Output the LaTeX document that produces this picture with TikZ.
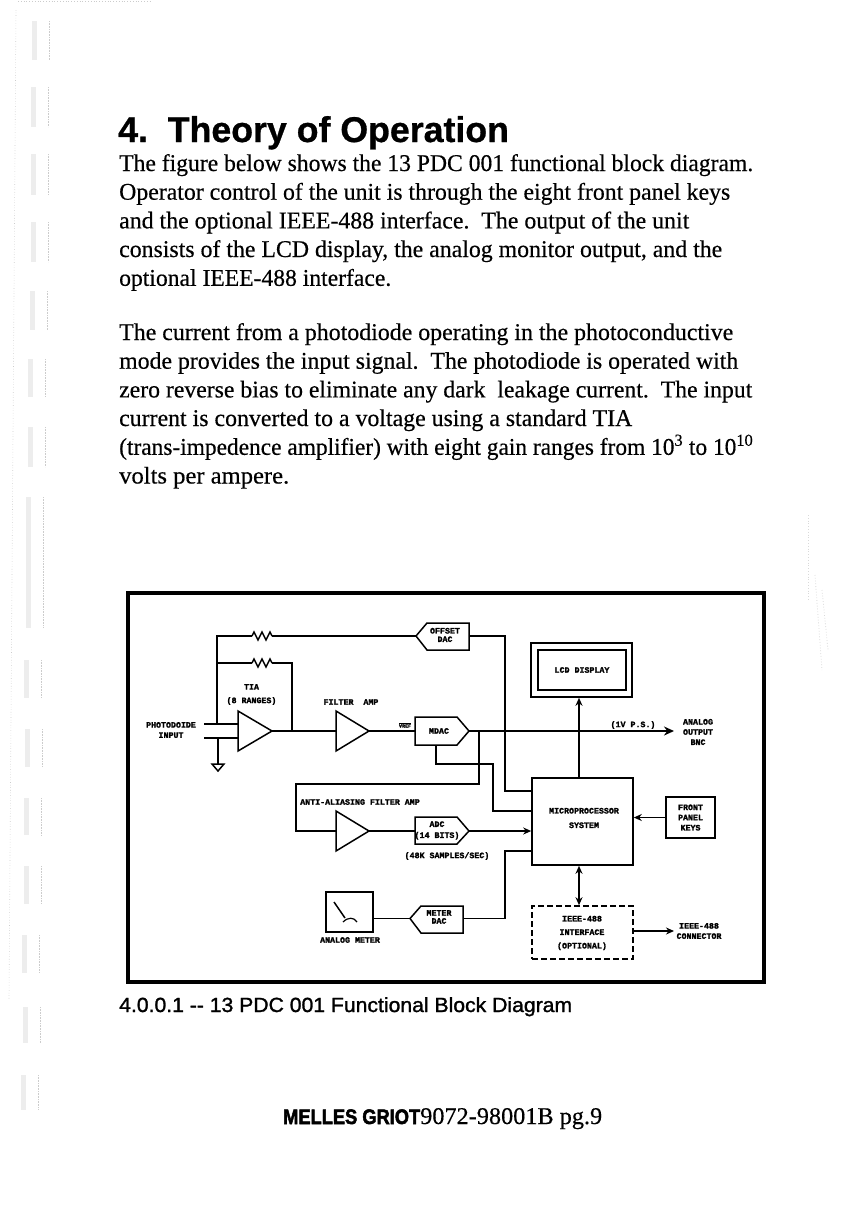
\documentclass[tikz,border=0pt]{standalone}
\usepackage{fontspec}
\usepackage{graphicx}
\usetikzlibrary{arrows.meta}
\setmainfont[FakeBold=0.4]{Liberation Serif}
\newfontfamily\headfont[FakeBold=0.8]{Liberation Sans Bold}
\newfontfamily\capfont[FakeBold=1.3]{Liberation Sans}
\newfontfamily\logofont[FakeBold=2.5]{Liberation Sans Bold}
\newfontfamily\labelfont[FakeBold=1.8]{Liberation Mono Bold}
\newcommand{\zigzag}[1]{\draw[wire] (#1) -- ++(2,-4) -- ++(4,8) -- ++(4,-8) -- ++(4,8) -- ++(4,-8) -- ++(2,4);}
\newcommand{\fitline}[2]{\resizebox{#1pt}{\height}{#2}}
\tikzset{
  wire/.style={line width=1.5pt,line join=miter},
  mainwire/.style={line width=2.2pt},
  tip/.style={-{Stealth[length=8pt,width=7pt]}},
  shape outline/.style={line width=1.5pt,line join=miter},
  block/.style={draw,line width=1.6pt,inner sep=0pt},
  lab/.style={inner sep=0pt,align=center,font=\labelfont\fontsize{8.3}{10}\selectfont},
  bodyline/.style={anchor=base west,inner sep=0pt,font=\fontsize{24}{29}\selectfont}
}
\begin{document}
\begin{tikzpicture}[x=1pt,y=-1pt]
\useasboundingbox (0,0) rectangle (864,1224);

% scan marks of the binder holes
\foreach \ya/\yb/\xa in {21/60/32,87/127/31,154/195/31,222/262/31,291/330/30,359/397/28,427/467/28,497/628/26,660/698/24,729/767/25,798/835/24,866/904/24,935/973/22,1007/1043/23,1075/1110/21}{
  \fill[black!7] (\xa,\ya) rectangle ({\xa+5},\yb);
  \draw[black!20,densely dotted,line width=0.6pt] ({\xa+17},\ya) -- ({\xa+17},\yb);
}
\draw[black!20,dotted,line width=0.6pt] (16,10) -- (9,1000);
\draw[black!20,dotted,line width=0.8pt] (18,1) -- (150,1);
\draw[black!15,dotted,line width=0.8pt] (808,515) -- (808,600);
\draw[black!15,dotted,line width=0.8pt] (815,575) -- (822,670);
\draw[black!15,dotted,line width=0.8pt] (822,590) -- (828,650);

% text of the page
\node[anchor=base west,inner sep=0pt,font=\headfont\fontsize{35.7}{40}\selectfont] (title) at (118,142) {4.\ \ Theory of Operation};
\node[bodyline] (l1) at (119,171) {\fitline{634}{The figure below shows the 13 PDC 001 functional block diagram.}};
\node[bodyline] (l2) at (119,199.7) {\fitline{611}{Operator control of the unit is through the eight front panel keys}};
\node[bodyline] (l3) at (119,228.4) {\fitline{570}{and the optional IEEE-488 interface.\ \ The output of the unit}};
\node[bodyline] (l4) at (119,257) {\fitline{603}{consists of the LCD display, the analog monitor output, and the}};
\node[bodyline] (l5) at (119,285.8) {\fitline{272}{optional IEEE-488 interface.}};
\node[bodyline] (p1) at (119,340) {\fitline{614}{The current from a photodiode operating in the photoconductive}};
\node[bodyline] (p2) at (119,368.7) {\fitline{619}{mode provides the input signal.\ \ The photodiode is operated with}};
\node[bodyline] (p3) at (119,397.4) {\fitline{633}{zero reverse bias to eliminate any dark\ \ leakage current.\ \ The input}};
\node[bodyline] (p4) at (119,426) {\fitline{513}{current is converted to a voltage using a standard TIA}};
\node[bodyline] (p5) at (119,454.8) {\fitline{634}{(trans-impedence amplifier) with eight gain ranges from 10\textsuperscript{3} to 10\textsuperscript{10}}};
\node[bodyline] (p6) at (119,483.5) {\fitline{170}{volts per ampere.}};

% frame
\draw[line width=4pt] (128,593) rectangle (764,982);
\node[anchor=base west,inner sep=0pt,font=\capfont\fontsize{20.5}{24}\selectfont] (caption) at (119,1012) {\fitline{453}{4.0.0.1 -- 13 PDC 001 Functional Block Diagram}};
\node[anchor=base west,inner sep=0pt] (footer) at (283,1124) {\fitline{137}{\logofont\fontsize{21}{24}\selectfont MELLES GRIOT}\fitline{182}{\fontsize{24}{29}\selectfont 9072-98001B pg.9}};

% blocks
\node[block,minimum width=101pt,minimum height=54pt] (lcd) at (581.5,670) {};
\node[draw,line width=2pt,inner sep=0pt,minimum width=88pt,minimum height=40pt,font=\labelfont\fontsize{8.3}{10}\selectfont] (lcdin) at (582,670) {LCD DISPLAY};
\node[block,minimum width=101pt,minimum height=87pt] (micro) at (582.5,821.5) {};
\node[lab] (microtxt) at (584,818) {MICROPROCESSOR\\[4.5pt]SYSTEM};
\node[block,minimum width=49pt,minimum height=41pt,lab,draw] (keys) at (690.5,817.5) {FRONT\\[0.2pt]PANEL\\[0.2pt]KEYS};
\node[draw,dashed,line width=1.6pt,dash pattern=on 6pt off 3pt,inner sep=0pt,minimum width=101pt,minimum height=53pt] (ieee) at (582.5,932.5) {};
\node[lab] (ieeetxt) at (582,933) {IEEE-488\\[3.5pt]INTERFACE\\[3.5pt](OPTIONAL)};
\node[block,minimum width=47pt,minimum height=40pt] (meter) at (349.5,912) {};
\draw[wire] (334,902) -- (345,918);
\draw[line width=1.2pt] (343,922) .. controls (348,917) and (354,917) .. (357,922);

% amplifiers
\draw[shape outline,fill=white] (238,711) -- (272,731) -- (238,751) -- cycle;
\draw[shape outline,fill=white] (336,711) -- (369,731) -- (336,751) -- cycle;
\draw[shape outline,fill=white] (336,811) -- (369,831) -- (336,851) -- cycle;
\coordinate (tia) at (272,731);
\coordinate (filter) at (369,731);
\coordinate (alias) at (369,831);

% converters
\draw[shape outline] (416,636) -- (427,623) -- (469,623) -- (469,650) -- (427,650) -- cycle;
\draw[shape outline] (415,717) -- (457,717) -- (469,731) -- (457,745) -- (415,745) -- cycle;
\draw[shape outline] (415,817) -- (457,817) -- (469,831) -- (457,844) -- (415,844) -- cycle;
\draw[shape outline] (410,918.5) -- (421,906) -- (463,906) -- (463,933) -- (421,933) -- cycle;
\coordinate (offset) at (416,636);
\coordinate (offsetR) at (469,636);
\coordinate (mdacL) at (415,731);
\coordinate (mdac) at (469,731);
\coordinate (mdacB) at (436,745);
\coordinate (adcL) at (415,831);
\coordinate (adc) at (469,831);
\coordinate (meterdac) at (410,918.5);
\coordinate (meterdacR) at (463,918.5);

% labels
\node[lab] (offsettxt) at (445,635) {OFFSET\\[-1.5pt]DAC};
\node[lab] (tiatxt) at (251.5,694.5) {TIA\\[3.5pt](8 RANGES)};
\node[lab] (filtertxt) at (351,702) {FILTER\ \ AMP};
\node[lab] (phototxt) at (171,730) {PHOTODOIDE\\[0.2pt]INPUT};
\node[lab,font=\labelfont\fontsize{5}{6}\selectfont] (vref) at (405,725) {$\overline{\hbox{VREF}}$};
\node[lab] (mdactxt) at (439,731) {MDAC};
\node[lab] (aliastxt) at (360,802) {ANTI-ALIASING FILTER AMP};
\node[lab] (adctxt) at (437,830.5) {ADC\\[1pt](14 BITS)};
\node[lab] (ratetxt) at (447,856) {(48K SAMPLES/SEC)};
\node[lab] (metertxt) at (439,917) {METER\\[-2pt]DAC};
\node[lab] (analogtxt) at (350,940) {ANALOG METER};
\node[lab] (fstxt) at (633,725) {(1V P.S.)};
\node[lab] (outtxt) at (698,732) {ANALOG\\[0.2pt]OUTPUT\\[0.2pt]BNC};
\node[lab] (conntxt) at (699,931) {IEEE-488\\[0.2pt]CONNECTOR};

% feedback network
\coordinate (R1a) at (252,636);
\coordinate (R1b) at (272,636);
\coordinate (R2a) at (252,663);
\coordinate (R2b) at (272,663);
\coordinate (in1) at (204,724);
\coordinate (in2) at (204,738);
\coordinate (inA) at (238,724);
\coordinate (inB) at (238,738);
\coordinate (gnd) at (218,764);
\zigzag{R1a}
\zigzag{R2a}
\draw[wire] (R1a) -- (217,636) -- (217,724);
\draw[wire] (R1b) -- (offset);
\draw[wire] (R2a) -- (217,663);
\draw[wire] (R2b) -- (292,663) -- (292,731);
\draw[mainwire] (in1) -- (inA);
\draw[mainwire] (in2) -- (inB);
\draw[wire] (218,738) -- (gnd);
\draw[shape outline] (212,764) -- (224,764) -- (218,771) -- cycle;

% signal path
\draw[wire] (tia) -- (336,731);
\draw[wire] (filter) -- (mdacL);
\draw[mainwire,-{Stealth[length=10pt,width=9pt]}] (mdac) -- (674,731);
\draw[wire] (479,731) -- (479,784) -- (296,784) -- (296,831) -- (336,831);
\draw[wire] (alias) -- (adcL);
\draw[wire,tip] (adc) -- (adc -| micro.west);
\draw[wire] (offsetR) -- (505,636) -- (505,791) -- (micro.west |- 0,791);
\draw[wire] (mdacB) -- (436,764) -- (493,764) -- (493,811) -- (micro.west |- 0,811);
\draw[wire] (meterdacR) -- (505,918.5) -- (505,851) -- (micro.west |- 0,851);
\draw[wire] (meter.east |- meterdac) -- (meterdac);
\draw[wire,tip] (micro.north -| 579,0) -- (lcd.south -| 579,0);
\draw[wire,tip] (keys.west) -- (keys.west -| micro.east);
\draw[wire,{Stealth[length=8pt,width=7pt]}-{Stealth[length=8pt,width=7pt]}] (micro.south -| 579,0) -- (ieee.north -| 579,0);
\draw[wire,tip] (ieee.east |- 0,931) -- (674,931);
\end{tikzpicture}
\end{document}
